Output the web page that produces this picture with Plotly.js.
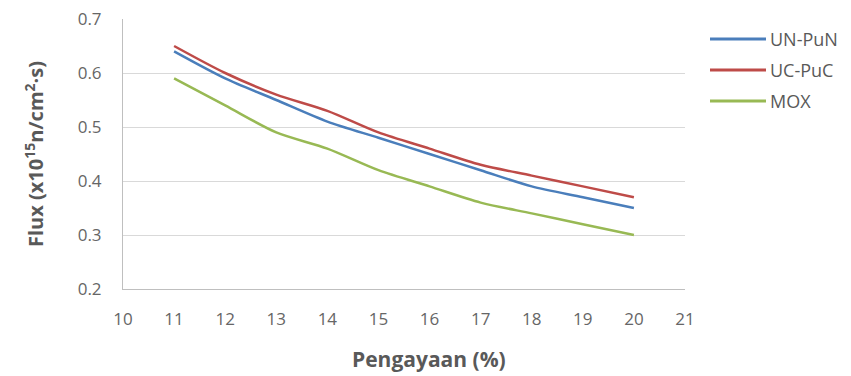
<!DOCTYPE html>
<html><head><meta charset="utf-8">
<script src="https://cdn.plot.ly/plotly-3.0.1.min.js"></script>
<style>html,body{margin:0;padding:0;background:#fff}#c{width:851px;height:376px}</style>
</head><body><div id="c"></div>
<script>
const enrichment = [11, 12, 13, 14, 15, 16, 17, 18, 19, 20];
const unPuN = [0.64, 0.59, 0.55, 0.51, 0.48, 0.45, 0.42, 0.39, 0.37, 0.35];
const ucPuC = [0.65, 0.60, 0.56, 0.53, 0.49, 0.46, 0.43, 0.41, 0.39, 0.37];
const mox   = [0.59, 0.54, 0.49, 0.46, 0.42, 0.39, 0.36, 0.34, 0.32, 0.30];
const seriesNames = ["UN-PuN", "UC-PuC", "MOX"];
const xTicks = [10, 11, 12, 13, 14, 15, 16, 17, 18, 19, 20, 21];
const yTicks = [0.2, 0.3, 0.4, 0.5, 0.6, 0.7];
const xTitle = "Pengayaan (%)";

const colors = ["#4A7EBB", "#BE4B48", "#98B954"];
const data = [unPuN, ucPuC, mox].map((ys, i) => ({
  x: enrichment, y: ys, name: seriesNames[i], type: "scatter", mode: "lines",
  line: {color: colors[i], width: 2.5, shape: "spline", smoothing: 0.8},
  showlegend: false
}));

// Custom legend (Excel-style long line samples)
const W = 851, H = 376, mL = 123, mR = 166, mT = 19, mB = 87;
const pw = W - mL - mR, ph = H - mT - mB;
const px = x => (x - mL) / pw;
const py = y => (H - mB - y) / ph;
const legendRows = [39, 70, 101];
const shapes = seriesNames.map((n, i) => ({
  type: "line", xref: "paper", yref: "paper",
  x0: px(710), x1: px(766), y0: py(legendRows[i]), y1: py(legendRows[i]),
  line: {color: colors[i], width: 3}
}));
const ff = "'Open Sans', sans-serif";
const annotations = seriesNames.map((n, i) => ({
  text: n, xref: "paper", yref: "paper", x: px(768), y: py(legendRows[i]),
  xanchor: "left", yanchor: "middle", showarrow: false,
  font: {family: ff, size: 18, color: "#595959"}
}));
annotations.push({
  text: "<b>" + xTitle + "</b>", xref: "paper", yref: "paper", x: px(429), y: py(359),
  xanchor: "center", yanchor: "middle", showarrow: false,
  font: {family: ff, size: 21, color: "#595959"}
});

const layout = {
  width: W, height: H,
  margin: {l: mL, r: mR, t: mT, b: mB},
  paper_bgcolor: "#fff", plot_bgcolor: "#fff",
  font: {family: ff, color: "#595959", size: 16},
  showlegend: false,
  shapes: shapes, annotations: annotations,
  xaxis: {
    range: [10, 21], tickvals: xTicks, ticktext: xTicks.map(String),
    tickfont: {family: ff, size: 17, color: "#666666"},
    showgrid: false, zeroline: false, showline: true, linecolor: "#BFBFBF", linewidth: 1,
    ticks: "", ticklabelstandoff: 15
  },
  yaxis: {
    range: [0.2, 0.7], tickvals: yTicks, ticktext: yTicks.map(v => v.toFixed(1)),
    tickfont: {family: ff, size: 17, color: "#666666"},
    showgrid: true, gridcolor: "#D9D9D9", gridwidth: 1, zeroline: false,
    showline: true, linecolor: "#BFBFBF", linewidth: 1,
    ticks: "", ticklabelstandoff: 17,
    title: {text: "<b>Flux (x10<sup>15</sup>n/cm<sup>2</sup>·s)</b>", font: {family: ff, size: 20, color: "#595959"}, standoff: 28}
  }
};
Plotly.newPlot("c", data, layout, {displayModeBar: false, staticPlot: true});
</script></body></html>
